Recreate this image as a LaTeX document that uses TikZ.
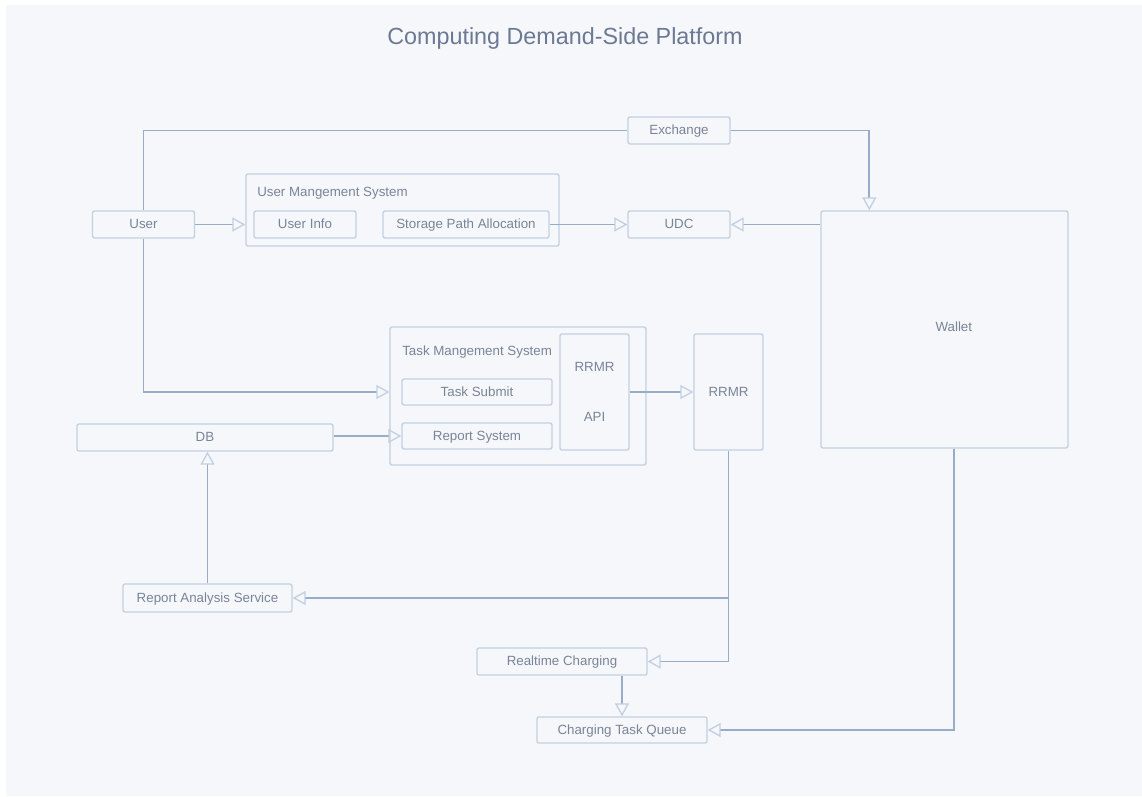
\documentclass[tikz,border=0pt]{standalone}
\usepackage{fontspec}
\setmainfont{Liberation Sans}
\usepackage{tikz}
\usetikzlibrary{positioning,arrows.meta}

\definecolor{bgcol}{HTML}{F5F7FA}
\definecolor{boxline}{HTML}{C3D0E2}
\definecolor{linkcol}{HTML}{97ACC7}
\definecolor{txtcol}{HTML}{7A8498}
\definecolor{titlecol}{HTML}{6C7994}

\begin{document}
\begin{tikzpicture}[x = 0.75pt, y = -0.75pt,
                    blk/.style  = {rectangle,
                                   draw = boxline,
                                   line width = 1pt,
                                   rounded corners = 1.5pt,
                                   text = txtcol,
                                   font = \fontsize{10}{12}\selectfont,
                                   inner sep = 0pt,
                                   text height = 7.2pt,
                                   text depth = 0.6pt,
                                   minimum width = 76.5pt,
                                   minimum height = 20.25pt},
                    lbl/.style  = {text = txtcol,
                                   font = \fontsize{10}{12}\selectfont,
                                   inner sep = 0pt},
                    link/.style = {draw = linkcol, line width = 1.4pt},
                    flow/.style = {link,
                                   -{Triangle[open, length = 9.75pt, width = 10.5pt,
                                              line width = 1pt, color = boxline]}}]

\useasboundingbox (0,0) rectangle (1142,796);
\fill[bgcol] (6,5) rectangle (1142,796);

\node[text = titlecol, font = \fontsize{17.5}{21}\selectfont] (Title) at (565,38) {Computing Demand-Side Platform};

\node[blk] (User) at (143.5,224.5) {User};
\node[blk, minimum width = 234.75pt, minimum height = 54pt] (UMS) at (402.5,210) {};
\node[lbl, anchor = west] (UMSlbl) at (257,193) {User Mangement System};
\node[blk] (UInfo) at (305,224.5) {User Info};
\node[blk, minimum width = 124.5pt] (Storage) at (466,224.5) {Storage Path Allocation};

\node[blk] (Exchange) at (679,130.5) {Exchange};
\node[blk] (UDC) at (679,224.5) {UDC};
\node[blk, minimum width = 185.25pt, minimum height = 177.75pt,
      label = {[lbl, xshift = 7pt, yshift = 2pt]center:Wallet}] (Wallet) at (944.5,329.5) {};

\node[blk, minimum width = 192pt, minimum height = 103.5pt] (TMS) at (518,396) {};
\node[lbl, anchor = west] (TMSlbl) at (402,352) {Task Mangement System};
\node[blk, minimum width = 112.5pt, minimum height = 19.5pt] (TSubmit) at (477,392) {Task Submit};
\node[blk, minimum width = 112.5pt, minimum height = 19.5pt] (RSystem) at (477,436) {Report System};
\node[blk, minimum width = 51.75pt, minimum height = 87pt, align = center,
      text height = {}, text depth = {}] (API) at (594.5,392) {RRMR\\[26pt]API};
\node[blk, minimum width = 51.75pt, minimum height = 87pt] (RRMR) at (728.5,392) {RRMR};

\node[blk, minimum width = 192pt] (DB) at (205,437.5) {DB};
\node[blk, minimum width = 126.75pt, minimum height = 21pt] (RAS) at (207.5,598) {Report Analysis Service};
\node[blk, minimum width = 127.5pt] (RC) at (562,661.5) {Realtime Charging};
\node[blk, minimum width = 127.5pt, minimum height = 19.5pt] (CTQ) at (622,730) {Charging Task Queue};

\draw[link] (User.north) |- (Exchange.west);
\draw[flow] (Exchange.east) -| ([xshift = 36.75pt]Wallet.north west);
\draw[flow] (User.east) -- (User.east -| UMS.west);
\path (Storage) edge[flow] (UDC);
\draw[flow] (Wallet.west |- UDC) -- (UDC.east);

\draw[flow] (User.south) |- (TSubmit -| TMS.west);
\draw[flow] (DB.east |- RSystem) -- (RSystem.west);
\path (API) edge[flow] (RRMR);

\draw[flow] (RRMR.south) |- (RC.east);
\draw[flow] (RRMR.south |- RAS) -- (RAS.east);
\draw[flow] (RAS.north) -- (DB.south -| RAS.north);
\draw[flow] (RC.south -| CTQ.north) -- (CTQ.north);
\draw[flow] ([xshift = 7pt]Wallet.south) |- (CTQ.east);

\end{tikzpicture}
\end{document}
